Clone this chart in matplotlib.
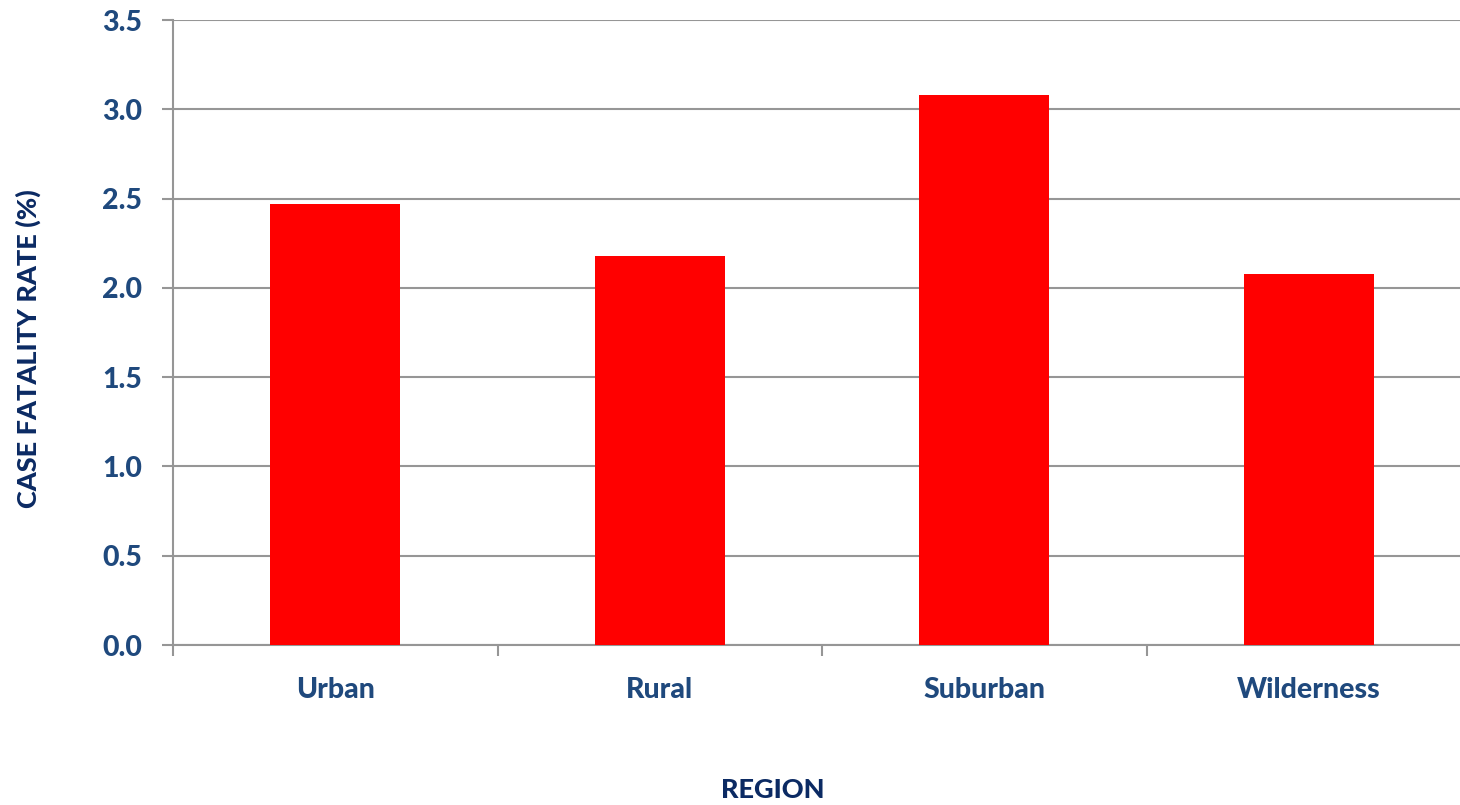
import matplotlib
matplotlib.use("Agg")
import matplotlib.pyplot as plt
import numpy as np

categories = ["Urban", "Rural", "Suburban", "Wilderness"]
values = [2.47, 2.18, 3.08, 2.08]
yticks = [0.0, 0.5, 1.0, 1.5, 2.0, 2.5, 3.0, 3.5]

plt.rcParams['font.family'] = ['Lato', 'DejaVu Sans']

W, H = 1460, 805
fig = plt.figure(figsize=(W / 100, H / 100), dpi=100)
fig.patch.set_facecolor('white')

left, right, top, bottom = 173, 1471, 20, 645
ax = fig.add_axes([left / W, 1 - bottom / H, (right - left) / W, (bottom - top) / H])

x = np.arange(len(categories))
ax.bar(x, values, width=0.4, color='#FF0000', zorder=3)

grid_col = '#969696'
ax.set_ylim(0, 3.5)
ax.set_xlim(-0.5, len(categories) - 0.5)
ax.set_yticks(yticks)
ax.set_yticklabels([f"{v:.1f}" for v in yticks])
ax.yaxis.grid(True, color=grid_col, linewidth=1.5, zorder=0)
ax.set_axisbelow(True)

ax.set_xticks(x)
ax.set_xticklabels(categories)
ax.set_xticks(np.arange(-0.5, len(categories), 1.0), minor=True)
ax.tick_params(axis='x', which='major', length=0, pad=23)
ax.tick_params(axis='x', which='minor', length=8, width=1.5, color=grid_col)
ax.tick_params(axis='y', length=8, width=1.5, color=grid_col, pad=14)

tick_col = '#1F497D'
for lab in ax.get_xticklabels() + ax.get_yticklabels():
    lab.set_fontsize(20.5)
    lab.set_fontweight(900)
    lab.set_color(tick_col)

for s in ['top', 'right']:
    ax.spines[s].set_visible(False)
for s in ['left', 'bottom']:
    ax.spines[s].set_color(grid_col)
    ax.spines[s].set_linewidth(1.5)

title_col = '#0B2A63'
fig.text(773 / W, 1 - 798 / H, "REGION", ha='center', va='baseline',
         fontsize=19.5, fontweight=900, color=title_col)
fig.text(28 / W, 1 - 349 / H, "CASE FATALITY RATE (%)", ha='center', va='center',
         rotation=90, fontsize=19.5, fontweight=900, color=title_col)

fig.savefig("out.png", dpi=100, facecolor='white')
